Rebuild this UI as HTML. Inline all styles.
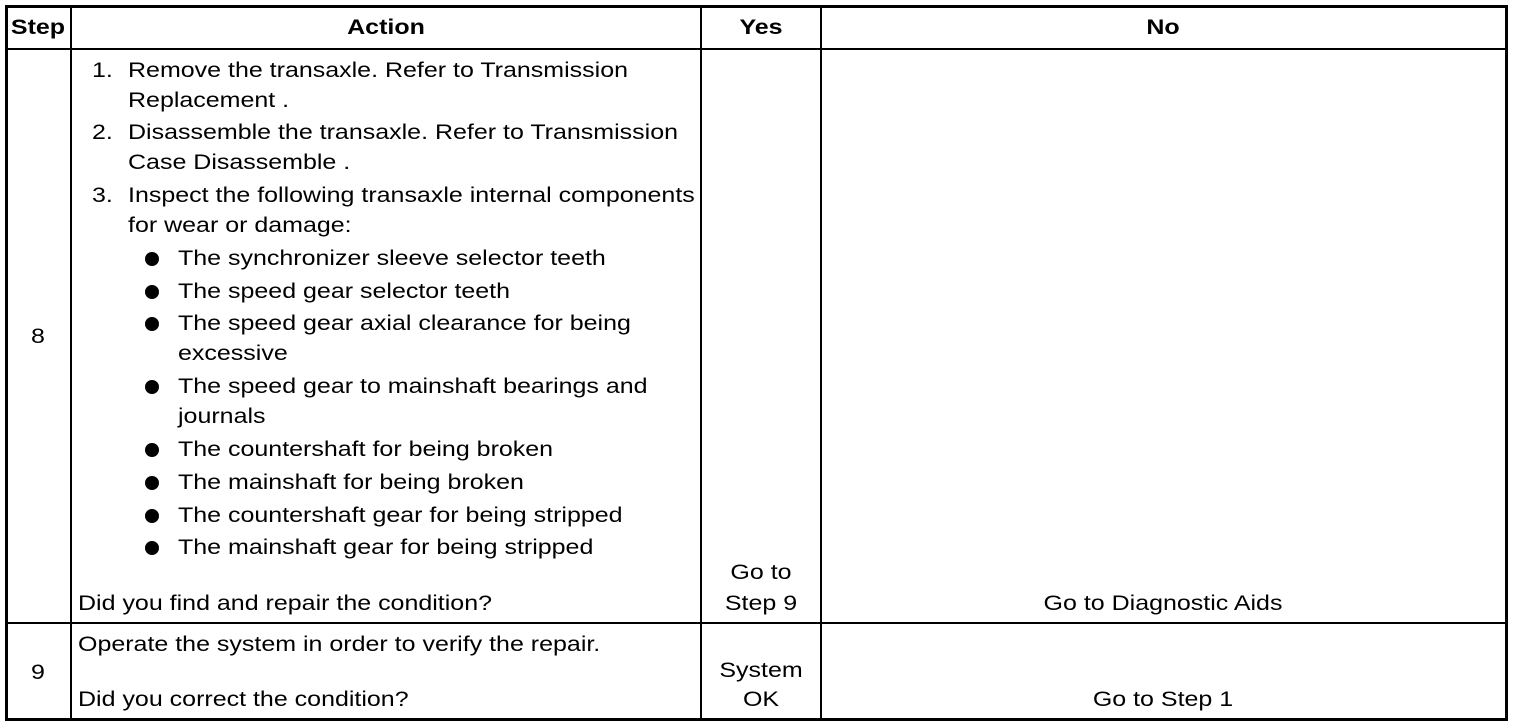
<!DOCTYPE html>
<html><head><style>
body{margin:0;background:#fff;width:1520px;height:728px;position:relative;overflow:hidden;font-family:"Liberation Sans",Arial,sans-serif;color:#000}
.l{position:absolute;background:#000}
.t{position:absolute;font-size:21px;line-height:24px;white-space:nowrap;transform:scaleX(1.19);transform-origin:0 50%}
.c{transform:translateX(-50%) scaleX(1.19);transform-origin:50% 50%}
.b{font-weight:bold}
.dot{position:absolute;width:14px;height:14px;border-radius:50%;background:#000}
</style></head><body>
<div class="l" style="left:5px;top:5px;width:1503px;height:3px"></div>
<div class="l" style="left:5px;top:718px;width:1503px;height:3px"></div>
<div class="l" style="left:5px;top:5px;width:3px;height:716px"></div>
<div class="l" style="left:1505px;top:5px;width:3px;height:716px"></div>
<div class="l" style="left:70px;top:5px;width:2px;height:716px"></div>
<div class="l" style="left:700px;top:5px;width:2px;height:716px"></div>
<div class="l" style="left:820px;top:5px;width:2px;height:716px"></div>
<div class="l" style="left:5px;top:48px;width:1503px;height:2px"></div>
<div class="l" style="left:5px;top:622px;width:1503px;height:2px"></div>

<div class="t b c" style="left:38px;top:16px">Step</div>
<div class="t b c" style="left:386px;top:16px">Action</div>
<div class="t b c" style="left:761px;top:16px">Yes</div>
<div class="t b c" style="left:1163px;top:16px">No</div>

<div class="t c" style="left:38px;top:325px">8</div>
<div class="t" style="left:92px;top:59px">1.</div>
<div class="t" style="left:128px;top:59px">Remove the transaxle. Refer to Transmission</div>
<div class="t" style="left:128px;top:89px">Replacement .</div>
<div class="t" style="left:92px;top:121px">2.</div>
<div class="t" style="left:128px;top:121px">Disassemble the transaxle. Refer to Transmission</div>
<div class="t" style="left:128px;top:151px">Case Disassemble .</div>
<div class="t" style="left:92px;top:184px">3.</div>
<div class="t" style="left:128px;top:184px">Inspect the following transaxle internal components</div>
<div class="t" style="left:128px;top:214px">for wear or damage:</div>

<div class="dot" style="left:145px;top:252px"></div><div class="t" style="left:178px;top:247px">The synchronizer sleeve selector teeth</div>
<div class="dot" style="left:145px;top:285px"></div><div class="t" style="left:178px;top:280px">The speed gear selector teeth</div>
<div class="dot" style="left:145px;top:317px"></div><div class="t" style="left:178px;top:312px">The speed gear axial clearance for being</div>
<div class="t" style="left:178px;top:342px">excessive</div>
<div class="dot" style="left:145px;top:380px"></div><div class="t" style="left:178px;top:375px">The speed gear to mainshaft bearings and</div>
<div class="t" style="left:178px;top:405px">journals</div>
<div class="dot" style="left:145px;top:443px"></div><div class="t" style="left:178px;top:438px">The countershaft for being broken</div>
<div class="dot" style="left:145px;top:476px"></div><div class="t" style="left:178px;top:471px">The mainshaft for being broken</div>
<div class="dot" style="left:145px;top:509px"></div><div class="t" style="left:178px;top:504px">The countershaft gear for being stripped</div>
<div class="dot" style="left:145px;top:541px"></div><div class="t" style="left:178px;top:536px">The mainshaft gear for being stripped</div>
<div class="t" style="left:78px;top:592px">Did you find and repair the condition?</div>
<div class="t c" style="left:761px;top:561px">Go to</div>
<div class="t c" style="left:761px;top:592px">Step 9</div>
<div class="t c" style="left:1163px;top:592px">Go to Diagnostic Aids</div>

<div class="t c" style="left:38px;top:661px">9</div>
<div class="t" style="left:78px;top:633px">Operate the system in order to verify the repair.</div>
<div class="t" style="left:78px;top:688px">Did you correct the condition?</div>
<div class="t c" style="left:761px;top:659px">System</div>
<div class="t c" style="left:761px;top:688px">OK</div>
<div class="t c" style="left:1163px;top:688px">Go to Step 1</div>
</body></html>
